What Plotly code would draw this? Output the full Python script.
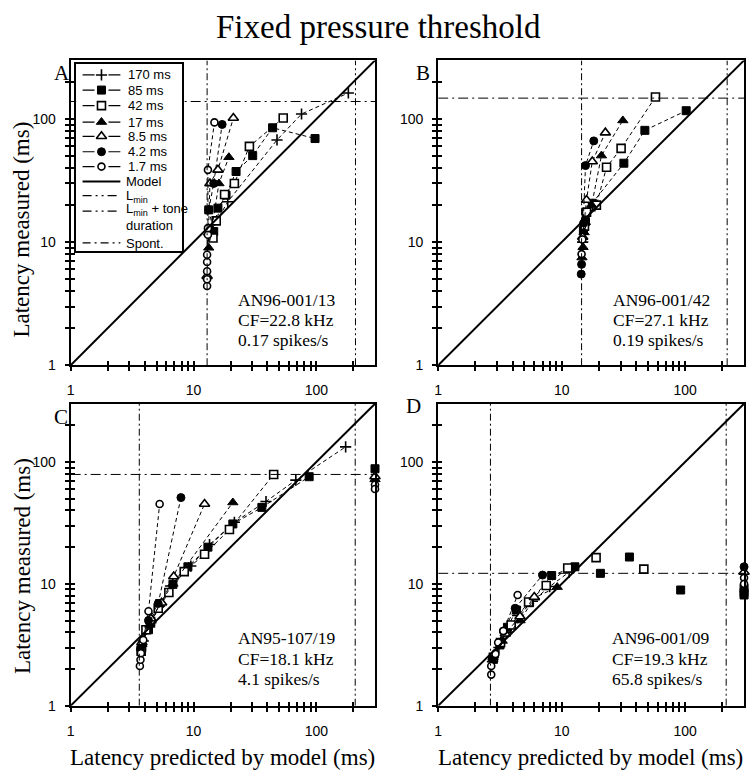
import math
import plotly.graph_objects as go

W, H = 753, 782


def fx(px):
    return px / W


def fy(py):
    return 1 - py / H


SERIES = ["170 ms", "85 ms", "42 ms", "17 ms", "8.5 ms", "4.2 ms", "1.7 ms"]

# ---------------- data (latency predicted, latency measured) in ms ----------------
# Panel A  AN96-001/13
a170 = [(13.3, 11.5), (19.0, 21.3), (47.8, 67.7), (75.7, 110), (182, 163)]
a85 = [(13.3, 18.3), (14.6, 12.2), (15.8, 18.9), (18.4, 24.1), (22.2, 37.5), (30.3, 50.5), (44, 85), (97.5, 69.5)]
a42 = [(14.4, 10.8), (15.3, 14.9), (17.9, 24.4), (21.5, 30), (28.5, 60), (53.7, 102)]
a17 = [(13.3, 9.0), (14.0, 12.5), (16.1, 30), (19.4, 49)]
a8_5 = [(12.9, 5.3), (13.6, 30), (15.8, 38.7), (21.1, 102)]
a4_2 = [(13.3, 18.3), (14.6, 30), (17.1, 90.5)]
a1_7 = [(12.9, 4.4), (12.9, 5.0), (12.9, 5.8), (12.9, 6.9), (12.9, 7.9), (13.1, 11.5), (13.1, 13.0), (13.1, 38.7), (14.8, 94)]
a_lmin, a_tone, a_spont = 12.9, 208, 139

# Panel B  AN96-001/42
b170 = [(14.8, 10.0), (15.5, 14.0), (17.0, 18.0)]
b85 = [(15.0, 12.5), (15.6, 14.7), (17.7, 20.7), (31.9, 43.8), (47.2, 81), (102, 117)]
b42 = [(15.3, 13.5), (15.9, 17.5), (19.1, 20), (23.1, 40.6), (30.3, 57.8), (57.5, 151)]
b17 = [(14.6, 7.5), (14.9, 9.1), (15.2, 12), (17.5, 20), (21, 50.5), (31.3, 97.5)]
b8_5 = [(14.8, 11), (15.9, 22), (17.7, 45.2), (22.6, 77.6)]
b4_2 = [(14.4, 5.5), (14.5, 6.6), (15.1, 14.3), (15.6, 41.9), (18.2, 66.5)]
b1_7 = [(14.5, 8.0), (14.7, 10.5)]
b_lmin, b_tone, b_spont = 14.5, 219, 148

# Panel C  AN95-107/19
c170 = [(3.9, 3.4), (4.5, 4.8), (6.5, 9.6), (9.5, 14), (13.5, 21), (21.5, 32), (38.9, 47.4), (68, 71), (173, 133)]
c85 = [(3.8, 3.0), (4.3, 4.2), (5.3, 6.9), (6.8, 9.9), (9.0, 13.8), (13.1, 20), (20.9, 31), (36, 42.4), (87.3, 75.7)]
c42 = [(3.75, 2.8), (4.1, 4.2), (4.47, 4.9), (5.16, 6.3), (6.3, 8.5), (8.4, 12.6), (12.3, 17.5), (19.6, 27.9), (44.9, 79)]
c17 = [(3.8, 3.2), (4.4, 4.6), (5.3, 6.8), (6.8, 10), (20.9, 46.5)]
c8_5 = [(3.8, 3.3), (4.5, 5.2), (5.5, 7.0), (6.9, 11.5), (12.3, 45.2)]
c4_2 = [(3.7, 2.9), (4.3, 5.0), (5.16, 6.9), (7.9, 51)]
c1_7 = [(3.66, 2.12), (3.7, 2.38), (3.73, 2.7), (3.9, 3.46), (4.3, 5.95), (5.3, 45.2)]
c_off = {"85 ms": [88], "17 ms": [72], "8.5 ms": [76], "1.7 ms": [65, 60]}
c_lmin, c_tone, c_spont = 3.62, 207, 79

# Panel D  AN96-001/09
d170 = [(2.75, 2.3), (3.1, 3.0), (3.6, 4.0), (4.4, 5.5), (5.8, 7.2), (8.0, 9.5), (11.5, 12.5)]
d85 = [(2.8, 2.4), (3.16, 3.15), (3.64, 4.4), (4.3, 6.1), (5.5, 7.0), (8.3, 11.7), (12.8, 13.8)]
d85_iso = [(20.6, 12.2), (35.4, 16.6), (92, 8.9)]
d42 = [(2.8, 2.5), (3.2, 3.3), (3.9, 4.6), (5.4, 7.1), (7.5, 9.7), (11.2, 13.5)]
d42_iso = [(19, 16.4), (46.3, 13.2)]
d17 = [(2.78, 2.5), (3.3, 3.4), (4.6, 5.0), (6.05, 7.7), (9.2, 9.4)]
d8_5 = [(2.8, 2.6), (3.5, 3.9), (4.6, 5.4), (6.0, 7.8)]
d4_2 = [(2.75, 2.4), (3.37, 4.1), (4.2, 6.3), (7.0, 11.8)]
d1_7 = [(2.69, 1.8), (2.69, 2.12), (2.91, 2.66), (3.06, 3.3), (3.37, 4.1), (4.4, 8.1)]
d_off = {"4.2 ms": [13.8], "8.5 ms": [12.5], "1.7 ms": [11.2, 10.0], "85 ms": [9.2, 8.5, 8.1]}
d_lmin, d_tone, d_spont = 2.65, 215, 12.2

AXIS_MAX = 300
MAJOR_TICKS = [1, 10, 100]
MAJOR_LABELS = ["1", "10", "100"]
MINOR_TICKS = [2, 3, 4, 5, 6, 7, 8, 9, 20, 30, 40, 50, 60, 70, 80, 90, 200]

LEGEND_LABELS = SERIES + ["Model", "L<sub>min</sub>", "L<sub>min</sub> + tone<br>duration", "Spont."]

# ---------------- styling ----------------
MARKERS = {
    "170 ms": dict(symbol="cross-thin", size=8, color="black", line=dict(color="black", width=1.6)),
    "85 ms": dict(symbol="square", size=8, color="black", line=dict(color="black", width=1)),
    "42 ms": dict(symbol="square", size=8, color="white", line=dict(color="black", width=1.6)),
    "17 ms": dict(symbol="triangle-up", size=9, color="black", line=dict(color="black", width=1)),
    "8.5 ms": dict(symbol="triangle-up", size=9, color="white", line=dict(color="black", width=1.6)),
    "4.2 ms": dict(symbol="circle", size=8, color="black", line=dict(color="black", width=1)),
    "1.7 ms": dict(symbol="circle", size=7, color="white", line=dict(color="black", width=1.6)),
}
SERIF = "Liberation Serif, Times New Roman, serif"
SANS = "Liberation Sans, Arial, sans-serif"
DASH_LMIN = "7px,3px,2px,3px"
DASH_TONE = "7px,3px,2px,3px,2px,3px"
DASH_SPONT = "10px,4px,2px,4px"

panels = [
    dict(key="A", n=1, series=[a170, a85, a42, a17, a8_5, a4_2, a1_7], iso={}, off={},
         lmin=a_lmin, tone=a_tone, spont=a_spont, dom=((67, 373), (61, 369)),
         text=["AN96-001/13", "CF=22.8 kHz", "0.17 spikes/s"], tpos=(233, 303), lpos=(58, 74)),
    dict(key="B", n=2, series=[b170, b85, b42, b17, b8_5, b4_2, b1_7], iso={}, off={},
         lmin=b_lmin, tone=b_tone, spont=b_spont, dom=((436.5, 744), (61, 369)),
         text=["AN96-001/42", "CF=27.1 kHz", "0.19 spikes/s"], tpos=(610, 303), lpos=(421, 74)),
    dict(key="C", n=3, series=[c170, c85, c42, c17, c8_5, c4_2, c1_7], iso={}, off=c_off,
         lmin=c_lmin, tone=c_tone, spont=c_spont, dom=((67, 373), (408, 713)),
         text=["AN95-107/19", "CF=18.1 kHz", "4.1 spikes/s"], tpos=(233, 645), lpos=(57, 421)),
    dict(key="D", n=4, series=[d170, d85, d42, d17, d8_5, d4_2, d1_7],
         iso={"85 ms": d85_iso, "42 ms": d42_iso}, off=d_off,
         lmin=d_lmin, tone=d_tone, spont=d_spont, dom=((436.5, 744), (408, 713)),
         text=["AN96-001/09", "CF=19.3 kHz", "65.8 spikes/s"], tpos=(609, 645), lpos=(412, 410)),
]

fig = go.Figure()
annotations = []
layout_axes = {}


def ax_id(n):
    return "" if n == 1 else str(n)


for p in panels:
    n = p["n"]
    xa, ya = "x" + ax_id(n), "y" + ax_id(n)
    kw = dict(xaxis=xa, yaxis=ya, showlegend=False)
    for name, data in zip(SERIES, p["series"]):
        fig.add_trace(go.Scatter(x=[v[0] for v in data], y=[v[1] for v in data], mode="lines+markers",
                                 name=name, line=dict(color="black", width=1, dash="4px,3px"),
                                 marker=MARKERS[name], cliponaxis=False, **kw))
        if name in p["iso"]:
            iso = p["iso"][name]
            fig.add_trace(go.Scatter(x=[v[0] for v in iso], y=[v[1] for v in iso], mode="markers",
                                     name=name, marker=MARKERS[name], cliponaxis=False, **kw))
        if name in p["off"]:
            ov = p["off"][name]
            fig.add_trace(go.Scatter(x=[AXIS_MAX] * len(ov), y=ov, mode="markers", name=name,
                                     marker=MARKERS[name], cliponaxis=False, **kw))
    fig.add_trace(go.Scatter(x=[1, AXIS_MAX], y=[1, AXIS_MAX], mode="lines", name="Model",
                             line=dict(color="black", width=2), **kw))
    fig.add_trace(go.Scatter(x=[p["lmin"], p["lmin"]], y=[1, AXIS_MAX], mode="lines", name="Lmin",
                             line=dict(color="black", width=1, dash=DASH_LMIN), **kw))
    fig.add_trace(go.Scatter(x=[p["tone"], p["tone"]], y=[1, AXIS_MAX], mode="lines",
                             name="Lmin + tone duration",
                             line=dict(color="black", width=1, dash=DASH_TONE), **kw))
    fig.add_trace(go.Scatter(x=[1, AXIS_MAX], y=[p["spont"], p["spont"]], mode="lines", name="Spont.",
                             line=dict(color="black", width=1, dash=DASH_SPONT), **kw))

    (l, r), (t, b) = p["dom"]
    base = dict(type="log", range=[0, math.log10(AXIS_MAX)], showgrid=False, zeroline=False,
                tickmode="array", tickvals=MAJOR_TICKS, ticklen=4, tickwidth=1.5,
                tickcolor="black", fixedrange=True)
    common = dict(base, showline=True, linecolor="black", linewidth=2, mirror=True,
                  ticktext=MAJOR_LABELS, ticks="outside",
                  minor=dict(tickmode="array", tickvals=MINOR_TICKS, ticks="outside",
                             ticklen=4, tickwidth=1.5, tickcolor="black", showgrid=False),
                  tickfont=dict(family=SANS, size=14, color="black"))
    layout_axes["xaxis" + ax_id(n)] = dict(common, domain=[fx(l), fx(r)], anchor=ya, ticklabelstandoff=7)
    layout_axes["yaxis" + ax_id(n)] = dict(common, domain=[fy(b), fy(t)], anchor=xa, ticklabelstandoff=6)

    # overlay axes that add the inner half of each tick so the ticks cross the frame
    inner = dict(base, showline=False, showticklabels=False, ticks="inside",
                 minor=dict(tickmode="array", tickvals=MINOR_TICKS, ticks="inside",
                            ticklen=4, tickwidth=1.5, tickcolor="black", showgrid=False))
    m = 10 + n
    layout_axes["xaxis%d" % m] = dict(inner, domain=[fx(l), fx(r)], anchor=ya, overlaying=xa, side="bottom")
    layout_axes["yaxis%d" % m] = dict(inner, domain=[fy(b), fy(t)], anchor=xa, overlaying=ya, side="left")
    fig.add_trace(go.Scatter(x=[1], y=[1], mode="markers", marker=dict(opacity=0),
                             xaxis="x%d" % m, yaxis=ya, showlegend=False, hoverinfo="skip"))
    fig.add_trace(go.Scatter(x=[1], y=[1], mode="markers", marker=dict(opacity=0),
                             xaxis=xa, yaxis="y%d" % m, showlegend=False, hoverinfo="skip"))

    tx, ty = p["tpos"]
    for i, line in enumerate(p["text"]):
        annotations.append(dict(x=fx(tx), y=fy(ty + i * 20.5), xref="paper", yref="paper",
                                text=line, showarrow=False, xanchor="left", yanchor="middle",
                                font=dict(family=SERIF, size=17.5, color="black")))
    lx, ly = p["lpos"]
    annotations.append(dict(x=fx(lx), y=fy(ly), xref="paper", yref="paper", text=p["key"],
                            showarrow=False, xanchor="center", yanchor="middle",
                            font=dict(family=SERIF, size=21, color="black")))

# ---------------- hand-built legend inside panel A (own pixel-unit axes) ----------------
LX0, LX1, LY0, LY1 = 72.5, 179, 65, 254
layout_axes["xaxis5"] = dict(domain=[fx(LX0), fx(LX1)], range=[LX0, LX1], anchor="y5",
                             showline=True, mirror=True, linecolor="black", linewidth=1.5,
                             showticklabels=False, ticks="", showgrid=False, zeroline=False,
                             fixedrange=True)
layout_axes["yaxis5"] = dict(domain=[fy(LY1), fy(LY0)], range=[LY1, LY0], anchor="x5",
                             showline=True, mirror=True, linecolor="black", linewidth=1.5,
                             showticklabels=False, ticks="", showgrid=False, zeroline=False,
                             fixedrange=True)
row_y = [75.7, 91, 106.7, 123.3, 137.7, 153.3, 168.3, 183.3, 197.7, 213.3, 229, 245.3]
lk = dict(xaxis="x5", yaxis="y5", showlegend=False, hoverinfo="skip")
for i, name in enumerate(SERIES):
    yy = row_y[i]
    fig.add_trace(go.Scatter(x=[79, 91, None, 105, 117], y=[yy, yy, None, yy, yy], mode="lines",
                             line=dict(color="black", width=1.2), **lk))
    fig.add_trace(go.Scatter(x=[98], y=[yy], mode="markers", marker=MARKERS[name],
                             cliponaxis=False, **lk))
fig.add_trace(go.Scatter(x=[79, 117], y=[row_y[7]] * 2, mode="lines",
                         line=dict(color="black", width=2), **lk))
fig.add_trace(go.Scatter(x=[79, 117], y=[row_y[8]] * 2, mode="lines",
                         line=dict(color="black", width=1.2, dash="9px,4px,2px,4px,2px,4px"), **lk))
fig.add_trace(go.Scatter(x=[79, 117], y=[row_y[9]] * 2, mode="lines",
                         line=dict(color="black", width=1.2, dash="9px,4px,2px,4px,2px,4px"), **lk))
fig.add_trace(go.Scatter(x=[79, 117], y=[row_y[11]] * 2, mode="lines",
                         line=dict(color="black", width=1.2, dash="8px,4px,2px,4px"), **lk))
label_y = row_y[:8] + [row_y[8] + 1, (row_y[9] + row_y[10]) / 2 - 1.5, row_y[11] + 0.5]
for i, lab in enumerate(LEGEND_LABELS):
    x_text = 123 if i < 7 else 121
    annotations.append(dict(x=x_text, y=label_y[i], xref="x5", yref="y5",
                            text=lab, showarrow=False, xanchor="left", yanchor="middle", align="left",
                            font=dict(family=SANS, size=13, color="black")))

# ---------------- titles ----------------
annotations.append(dict(x=fx(376), y=fy(27), xref="paper", yref="paper",
                        text="Fixed pressure threshold", showarrow=False,
                        xanchor="center", yanchor="middle",
                        font=dict(family=SERIF, size=33, color="black")))
for cx in (220, 590):
    annotations.append(dict(x=fx(cx), y=fy(765), xref="paper", yref="paper",
                            text="Latency predicted by model (ms)", showarrow=False,
                            xanchor="center", yanchor="middle",
                            font=dict(family=SERIF, size=23, color="black")))
for cy in (232, 572):
    annotations.append(dict(x=fx(18), y=fy(cy), xref="paper", yref="paper",
                            text="Latency measured (ms)", showarrow=False, textangle=-90,
                            xanchor="center", yanchor="middle",
                            font=dict(family=SERIF, size=23, color="black")))

fig.update_layout(
    width=W, height=H, margin=dict(l=0, r=0, t=0, b=0),
    paper_bgcolor="white", plot_bgcolor="white",
    annotations=annotations, showlegend=False,
    **layout_axes,
)

# remove the browser's default 8px body margin so the figure fills the window exactly
fig.write_html("out.html", config={"displayModeBar": False},
               post_script="document.body.style.margin='0';document.body.style.overflow='hidden';")
